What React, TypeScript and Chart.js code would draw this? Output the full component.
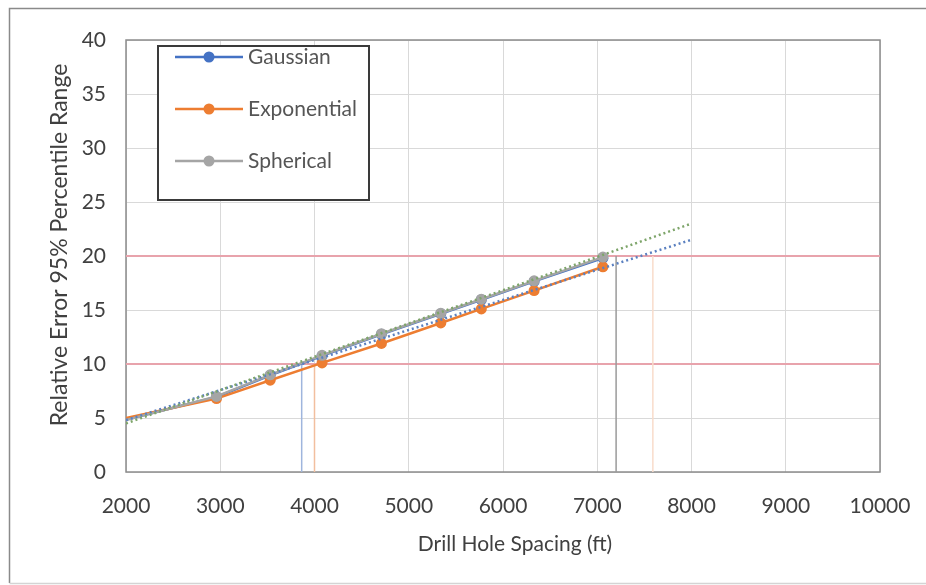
import React, { useEffect, useRef } from 'react';
import { Chart, registerables } from 'chart.js';

Chart.register(...registerables);

// ---- data ----
const spacingFt = [2000, 2960, 3530, 4080, 4710, 5340, 5770, 6330, 7060];
const gaussian = [4.85, 6.95, 8.95, 10.75, 12.75, 14.65, 15.95, 17.65, 19.8];
const exponential = [5.0, 6.8, 8.5, 10.1, 11.9, 13.8, 15.1, 16.8, 19.0];
const spherical = [4.8, 7.0, 9.0, 10.8, 12.8, 14.7, 16.0, 17.7, 19.9];
const seriesNames = ['Gaussian', 'Exponential', 'Spherical'];
const seriesColors = ['#4472C4', '#ED7D31', '#A5A5A5'];

const trendX = [2000, 8000];
const trendUpper = [4.5, 23.0];
const trendLower = [4.8, 21.5];

const thresholdLevels = [10, 20];
const dropX = [3864, 4000, 7200, 7590];
const dropY = [10, 10, 20, 20];
const dropColors = ['#9fb5dd', '#f2bf9f', '#9a9a9a', '#f9dccb'];

const xMin = 2000, xMax = 10000, xStep = 1000;
const yMin = 0, yMax = 40, yStep = 5;

const xTitle = 'Drill Hole Spacing (ft)';
const yTitle = 'Relative Error 95% Percentile Range';

const FONT = 'Lato, "Open Sans", sans-serif';
const TEXT = '#404040';

const frame = {
  id: 'frame',
  beforeDraw(chart: any) {
    const { ctx, width, height } = chart;
    ctx.save();
    ctx.fillStyle = '#ffffff';
    ctx.fillRect(0, 0, width, height);
    ctx.strokeStyle = '#8a8a8a';
    ctx.lineWidth = 1.5;
    ctx.beginPath();
    ctx.moveTo(9.5, 583);
    ctx.lineTo(9.5, 8.5);
    ctx.lineTo(width, 8.5);
    ctx.stroke();
    ctx.strokeStyle = '#d4d4d4';
    ctx.beginPath();
    ctx.moveTo(9.5, 583.5);
    ctx.lineTo(width, 583.5);
    ctx.stroke();
    ctx.restore();
  },
  beforeDatasetsDraw(chart: any) {
    const { ctx, chartArea: a } = chart;
    ctx.save();
    ctx.strokeStyle = '#8c8c8c';
    ctx.lineWidth = 1.5;
    ctx.strokeRect(a.left, a.top, a.right - a.left, a.bottom - a.top);
    ctx.restore();
  },
  afterDraw(chart: any) {
    const ctx = chart.ctx;
    ctx.save();
    ctx.fillStyle = TEXT;
    ctx.textAlign = 'center';
    ctx.textBaseline = 'middle';
    ctx.font = `21px ${FONT}`;
    ctx.fillText(xTitle, 515, 544);
    ctx.translate(60, 245);
    ctx.rotate(-Math.PI / 2);
    ctx.font = `23px ${FONT}`;
    ctx.fillText(yTitle, 0, 0);
    ctx.restore();
  },
};

const boxLegend = {
  id: 'boxLegend',
  afterDraw(chart: any) {
    const ctx = chart.ctx;
    const L = 158, T = 46, W = 211, H = 154;
    ctx.save();
    ctx.fillStyle = '#ffffff';
    ctx.fillRect(L, T, W, H);
    ctx.strokeStyle = '#3a3a3a';
    ctx.lineWidth = 2;
    ctx.strokeRect(L, T, W, H);
    const rowY = [57, 109, 161];
    seriesNames.forEach((name, i) => {
      const y = rowY[i];
      ctx.strokeStyle = seriesColors[i];
      ctx.lineWidth = 2.5;
      ctx.beginPath();
      ctx.moveTo(175, y);
      ctx.lineTo(243, y);
      ctx.stroke();
      ctx.fillStyle = seriesColors[i];
      ctx.beginPath();
      ctx.arc(209, y, 5.5, 0, Math.PI * 2);
      ctx.fill();
      ctx.fillStyle = '#555555';
      ctx.font = `21px ${FONT}`;
      ctx.textBaseline = 'middle';
      ctx.textAlign = 'left';
      ctx.fillText(name, 248, y);
    });
    ctx.restore();
  },
};

function pts(xs: number[], ys: number[]) {
  return xs.map((x, i) => ({ x, y: ys[i] }));
}

export default function App() {
  const ref = useRef<HTMLCanvasElement>(null);
  useEffect(() => {
    if (!ref.current) return;
    const seriesData = [gaussian, exponential, spherical];
    const datasets: any[] = [];
    thresholdLevels.forEach((lvl) => {
      datasets.push({
        data: pts([xMin, xMax], [lvl, lvl]),
        borderColor: '#e8a3ac',
        borderWidth: 2,
        pointRadius: 0,
        order: 20,
      });
    });
    dropX.forEach((x, i) => {
      datasets.push({
        data: pts([x, x], [0, dropY[i]]),
        borderColor: dropColors[i],
        borderWidth: 1.5,
        pointRadius: 0,
        order: 19,
      });
    });
    seriesNames.forEach((name, i) => {
      datasets.push({
        label: name,
        data: pts(spacingFt, seriesData[i]),
        borderColor: seriesColors[i],
        backgroundColor: seriesColors[i],
        borderWidth: 2.5,
        pointRadius: (c: any) => (c.dataIndex === 0 ? 0 : 5.5),
        pointBorderWidth: 0,
        order: 10 - i,
      });
    });
    datasets.push({
      data: pts(trendX, trendLower),
      borderColor: '#5b80c0',
      borderWidth: 2.5,
      borderDash: [2, 3],
      pointRadius: 0,
      order: 2,
    });
    datasets.push({
      data: pts(trendX, trendUpper),
      borderColor: '#7ea56a',
      borderWidth: 2.5,
      borderDash: [2, 3],
      pointRadius: 0,
      order: 1,
    });

    const chart = new Chart(ref.current, {
      type: 'scatter',
      data: { datasets },
      options: {
        animation: false,
        responsive: true,
        maintainAspectRatio: false,
        showLine: true,
        layout: { padding: { top: 40, right: 46, left: 0, bottom: 0 } },
        plugins: { legend: { display: false }, tooltip: { enabled: false } },
        scales: {
          x: {
            type: 'linear',
            min: xMin,
            max: xMax,
            ticks: {
              stepSize: xStep,
              color: TEXT,
              font: { family: FONT, size: 21 },
              padding: 22,
              maxRotation: 0,
              callback: (v: any) => String(v),
            },
            grid: { color: '#d9d9d9', lineWidth: 1, drawTicks: false },
            border: { display: false },
            afterFit: (s: any) => { s.height = 113; s.paddingRight = 0; s.paddingLeft = 0; },
          },
          y: {
            type: 'linear',
            min: yMin,
            max: yMax,
            ticks: {
              stepSize: yStep,
              color: TEXT,
              font: { family: FONT, size: 21 },
              padding: 20,
              callback: (v: any) => String(v),
            },
            grid: { color: '#d9d9d9', lineWidth: 1, drawTicks: false },
            border: { display: false },
            afterFit: (s: any) => { s.width = 126; s.paddingTop = 0; s.paddingBottom = 0; },
          },
        },
      },
      plugins: [frame, boxLegend],
    });
    return () => chart.destroy();
  }, []);
  return (
    <div style={{ position: 'absolute', left: 0, top: 0, width: 926, height: 585 }}>
      <canvas ref={ref} />
    </div>
  );
}
